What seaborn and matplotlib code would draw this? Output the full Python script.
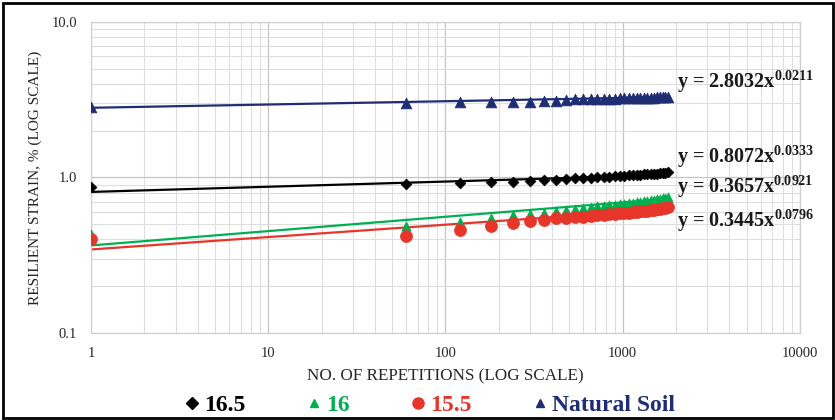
import numpy as np
import pandas as pd
import seaborn as sns
import matplotlib.pyplot as plt
from matplotlib.lines import Line2D
from matplotlib.patches import Rectangle
from matplotlib.ticker import FixedLocator, LogLocator, NullFormatter

# Data
repetitions = [1, 60, 120, 180, 240, 300, 360, 420, 480, 540, 600, 660, 720, 780,
               840, 900, 960, 1020, 1080, 1140, 1200, 1260, 1320, 1380, 1440, 1500,
               1560, 1620, 1680, 1740, 1800]

strain_165 = [0.87, 0.91, 0.92, 0.93, 0.94, 0.95, 0.96, 0.97, 0.98, 0.985, 0.99,
              0.995, 1.0, 1.005, 1.01, 1.015, 1.02, 1.025, 1.03, 1.03, 1.035, 1.04,
              1.045, 1.05, 1.05, 1.055, 1.06, 1.065, 1.07, 1.075, 1.08]

strain_16 = [0.43, 0.49, 0.52, 0.55, 0.57, 0.585, 0.595, 0.605, 0.615, 0.625, 0.635,
             0.645, 0.655, 0.66, 0.665, 0.67, 0.675, 0.68, 0.685, 0.69, 0.695, 0.70,
             0.705, 0.71, 0.715, 0.72, 0.725, 0.73, 0.735, 0.74, 0.745]

strain_155 = [0.40, 0.42, 0.46, 0.49, 0.51, 0.525, 0.535, 0.545, 0.55, 0.555, 0.56,
              0.565, 0.57, 0.575, 0.58, 0.585, 0.59, 0.592, 0.595, 0.598, 0.60, 0.605,
              0.61, 0.612, 0.615, 0.62, 0.625, 0.63, 0.635, 0.64, 0.645]

strain_natural = [2.85, 3.00, 3.05, 3.05, 3.07, 3.04, 3.10, 3.12, 3.16, 3.17, 3.18,
                  3.19, 3.20, 3.20, 3.21, 3.21, 3.22, 3.22, 3.23, 3.23, 3.24, 3.24,
                  3.25, 3.25, 3.26, 3.26, 3.27, 3.27, 3.28, 3.29, 3.30]

series = ["16.5", "16", "15.5", "Natural Soil"]
# power trendline coefficients shown on the chart (y = a * x^b)
coef_a = [0.8072, 0.3657, 0.3445, 2.8032]
coef_b = [0.0333, 0.0921, 0.0796, 0.0211]

colors = {"16.5": "#000000", "16": "#00b050", "15.5": "#e8352a", "Natural Soil": "#1f2d74"}
markers = {"16.5": "D", "16": "^", "15.5": "o", "Natural Soil": "^"}
sizes = {"16.5": 30, "16": 45, "15.5": 75, "Natural Soil": 60}

values = [strain_165, strain_16, strain_155, strain_natural]
df = pd.concat([pd.DataFrame({"reps": repetitions, "strain": v, "series": s})
                for s, v in zip(series, values)], ignore_index=True)
df["trend"] = [coef_a[series.index(s)] * r ** coef_b[series.index(s)]
               for s, r in zip(df["series"], df["reps"])]

sns.set_style("white")
plt.rcParams["font.family"] = ["Liberation Serif", "DejaVu Serif"]
plt.rcParams["mathtext.fontset"] = "custom"
plt.rcParams["mathtext.rm"] = "Liberation Serif:bold"
plt.rcParams["mathtext.it"] = "Liberation Serif:bold"

fig, ax = plt.subplots(figsize=(8.35, 4.2), dpi=100)
fig.subplots_adjust(left=0.109, right=0.958, top=0.948, bottom=0.207)

for s in series:
    sub = df[df["series"] == s]
    sns.scatterplot(data=sub, x="reps", y="strain", color=colors[s], marker=markers[s],
                    s=sizes[s], edgecolor=colors[s], linewidth=0.5, ax=ax, legend=False,
                    zorder=3)
    sns.lineplot(data=sub, x="reps", y="trend", color=colors[s], linewidth=1.6,
                 ax=ax, legend=False, zorder=2)

ax.set_xscale("log")
ax.set_yscale("log")
ax.set_xlim(1, 10000)
ax.set_ylim(0.1, 10)

ax.xaxis.set_major_locator(FixedLocator([1, 10, 100, 1000, 10000]))
ax.set_xticklabels(["1", "10", "100", "1000", "10000"])
ax.yaxis.set_major_locator(FixedLocator([0.1, 1, 10]))
ax.set_yticklabels(["0.1", "1.0", "10.0"])
ax.xaxis.set_minor_locator(LogLocator(base=10, subs=np.arange(2, 10)))
ax.yaxis.set_minor_locator(LogLocator(base=10, subs=np.arange(2, 10)))
ax.xaxis.set_minor_formatter(NullFormatter())
ax.yaxis.set_minor_formatter(NullFormatter())
ax.tick_params(axis="both", which="both", length=0, labelsize=10.5, pad=10)

ax.grid(True, which="major", color="#c4c4c4", linewidth=0.9)
ax.grid(True, which="minor", color="#dedede", linewidth=0.8)
for sp in ax.spines.values():
    sp.set_color("#d0d0d0")
    sp.set_linewidth(0.9)

ax.set_xlabel("NO. OF REPETITIONS (LOG SCALE)", fontsize=12.3, labelpad=6)
ax.set_ylabel("RESILIENT STRAIN, % (LOG SCALE)", fontsize=11, labelpad=7)

# trendline equations
eq_y = {"Natural Soil": 82, "16.5": 157, "16": 187, "15.5": 221}
for s in series:
    i = series.index(s)
    txt = f"y = {coef_a[i]:.4f}x$^{{{coef_b[i]:.4f}}}$"
    fig.text(677 / 835, 1 - eq_y[s] / 420, txt, fontsize=14.5, fontweight="bold",
             color="#1a1a1a", va="center", ha="left")

handles = [Line2D([], [], linestyle="none", marker=markers[s], color=colors[s],
                  markersize=6 if s != "15.5" else 8) for s in series]
leg = fig.legend(handles, series, loc="center", bbox_to_anchor=(430 / 835, 1 - 405 / 420),
                 ncol=4, frameon=False, handlelength=0.6, handletextpad=0.2,
                 columnspacing=2.6,
                 prop={"family": "Liberation Serif", "weight": "bold", "size": 17})
for t, s in zip(leg.get_texts(), series):
    t.set_color(colors[s])

fig.patches.append(Rectangle((0.004, 0.004), 0.994, 0.988, transform=fig.transFigure,
                             fill=False, edgecolor="#000000", linewidth=2))

plt.savefig("out.png", dpi=100)
